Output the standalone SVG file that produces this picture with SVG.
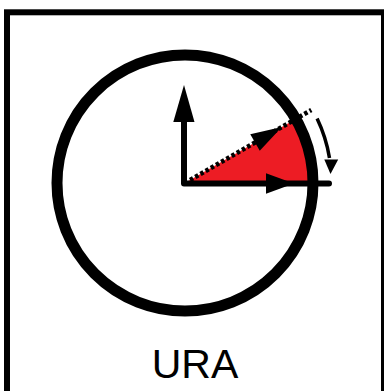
<svg xmlns="http://www.w3.org/2000/svg" width="384" height="391" viewBox="0 0 384 391">
  <style>
    .ink { fill: #000; }
    .axis { stroke: #000; stroke-width: 6; fill: none; stroke-linecap: round; stroke-linejoin: round; }
    .label { font-family: "Liberation Sans", Arial, sans-serif; font-size: 41px; fill: #000; }
  </style>
  <rect id="frame" x="7" y="12.3" width="377" height="400" fill="#fff" stroke="#000" stroke-width="6"/>
  <g id="wedge">
    <path d="M184,183.5 L310,183.5 A126,126 0 0 0 293.1,120.5 Z" fill="#ED1C24"/>
  </g>
  <g id="connectors">
    <path class="axis" d="M184,121 L184,183.5 L329,183.5"/>
    <polygon class="ink" points="173.3,122 184,85 194.5,122"/>
    <polygon class="ink" points="266,173.3 294,183.5 266,193.7"/>
    <g transform="translate(184,183.5) rotate(-30)">
      <line x1="7" y1="0" x2="147" y2="0" stroke="#000" stroke-width="4.5" stroke-dasharray="3.5 2.5"/>
      <polygon class="ink" points="82,-9.5 113,0 82,9.5"/>
    </g>
    <path d="M317.1,118.6 A147,147 0 0 1 329.5,158" fill="none" stroke="#000" stroke-width="3.5"/>
    <polygon class="ink" points="324.3,159.5 338.2,159.5 330.5,174"/>
  </g>
  <g id="dial">
    <circle cx="185" cy="183" r="128" fill="none" stroke="#000" stroke-width="11"/>
  </g>
  <g id="caption">
    <text class="label" x="195" y="378" text-anchor="middle">URA</text>
  </g>
</svg>
